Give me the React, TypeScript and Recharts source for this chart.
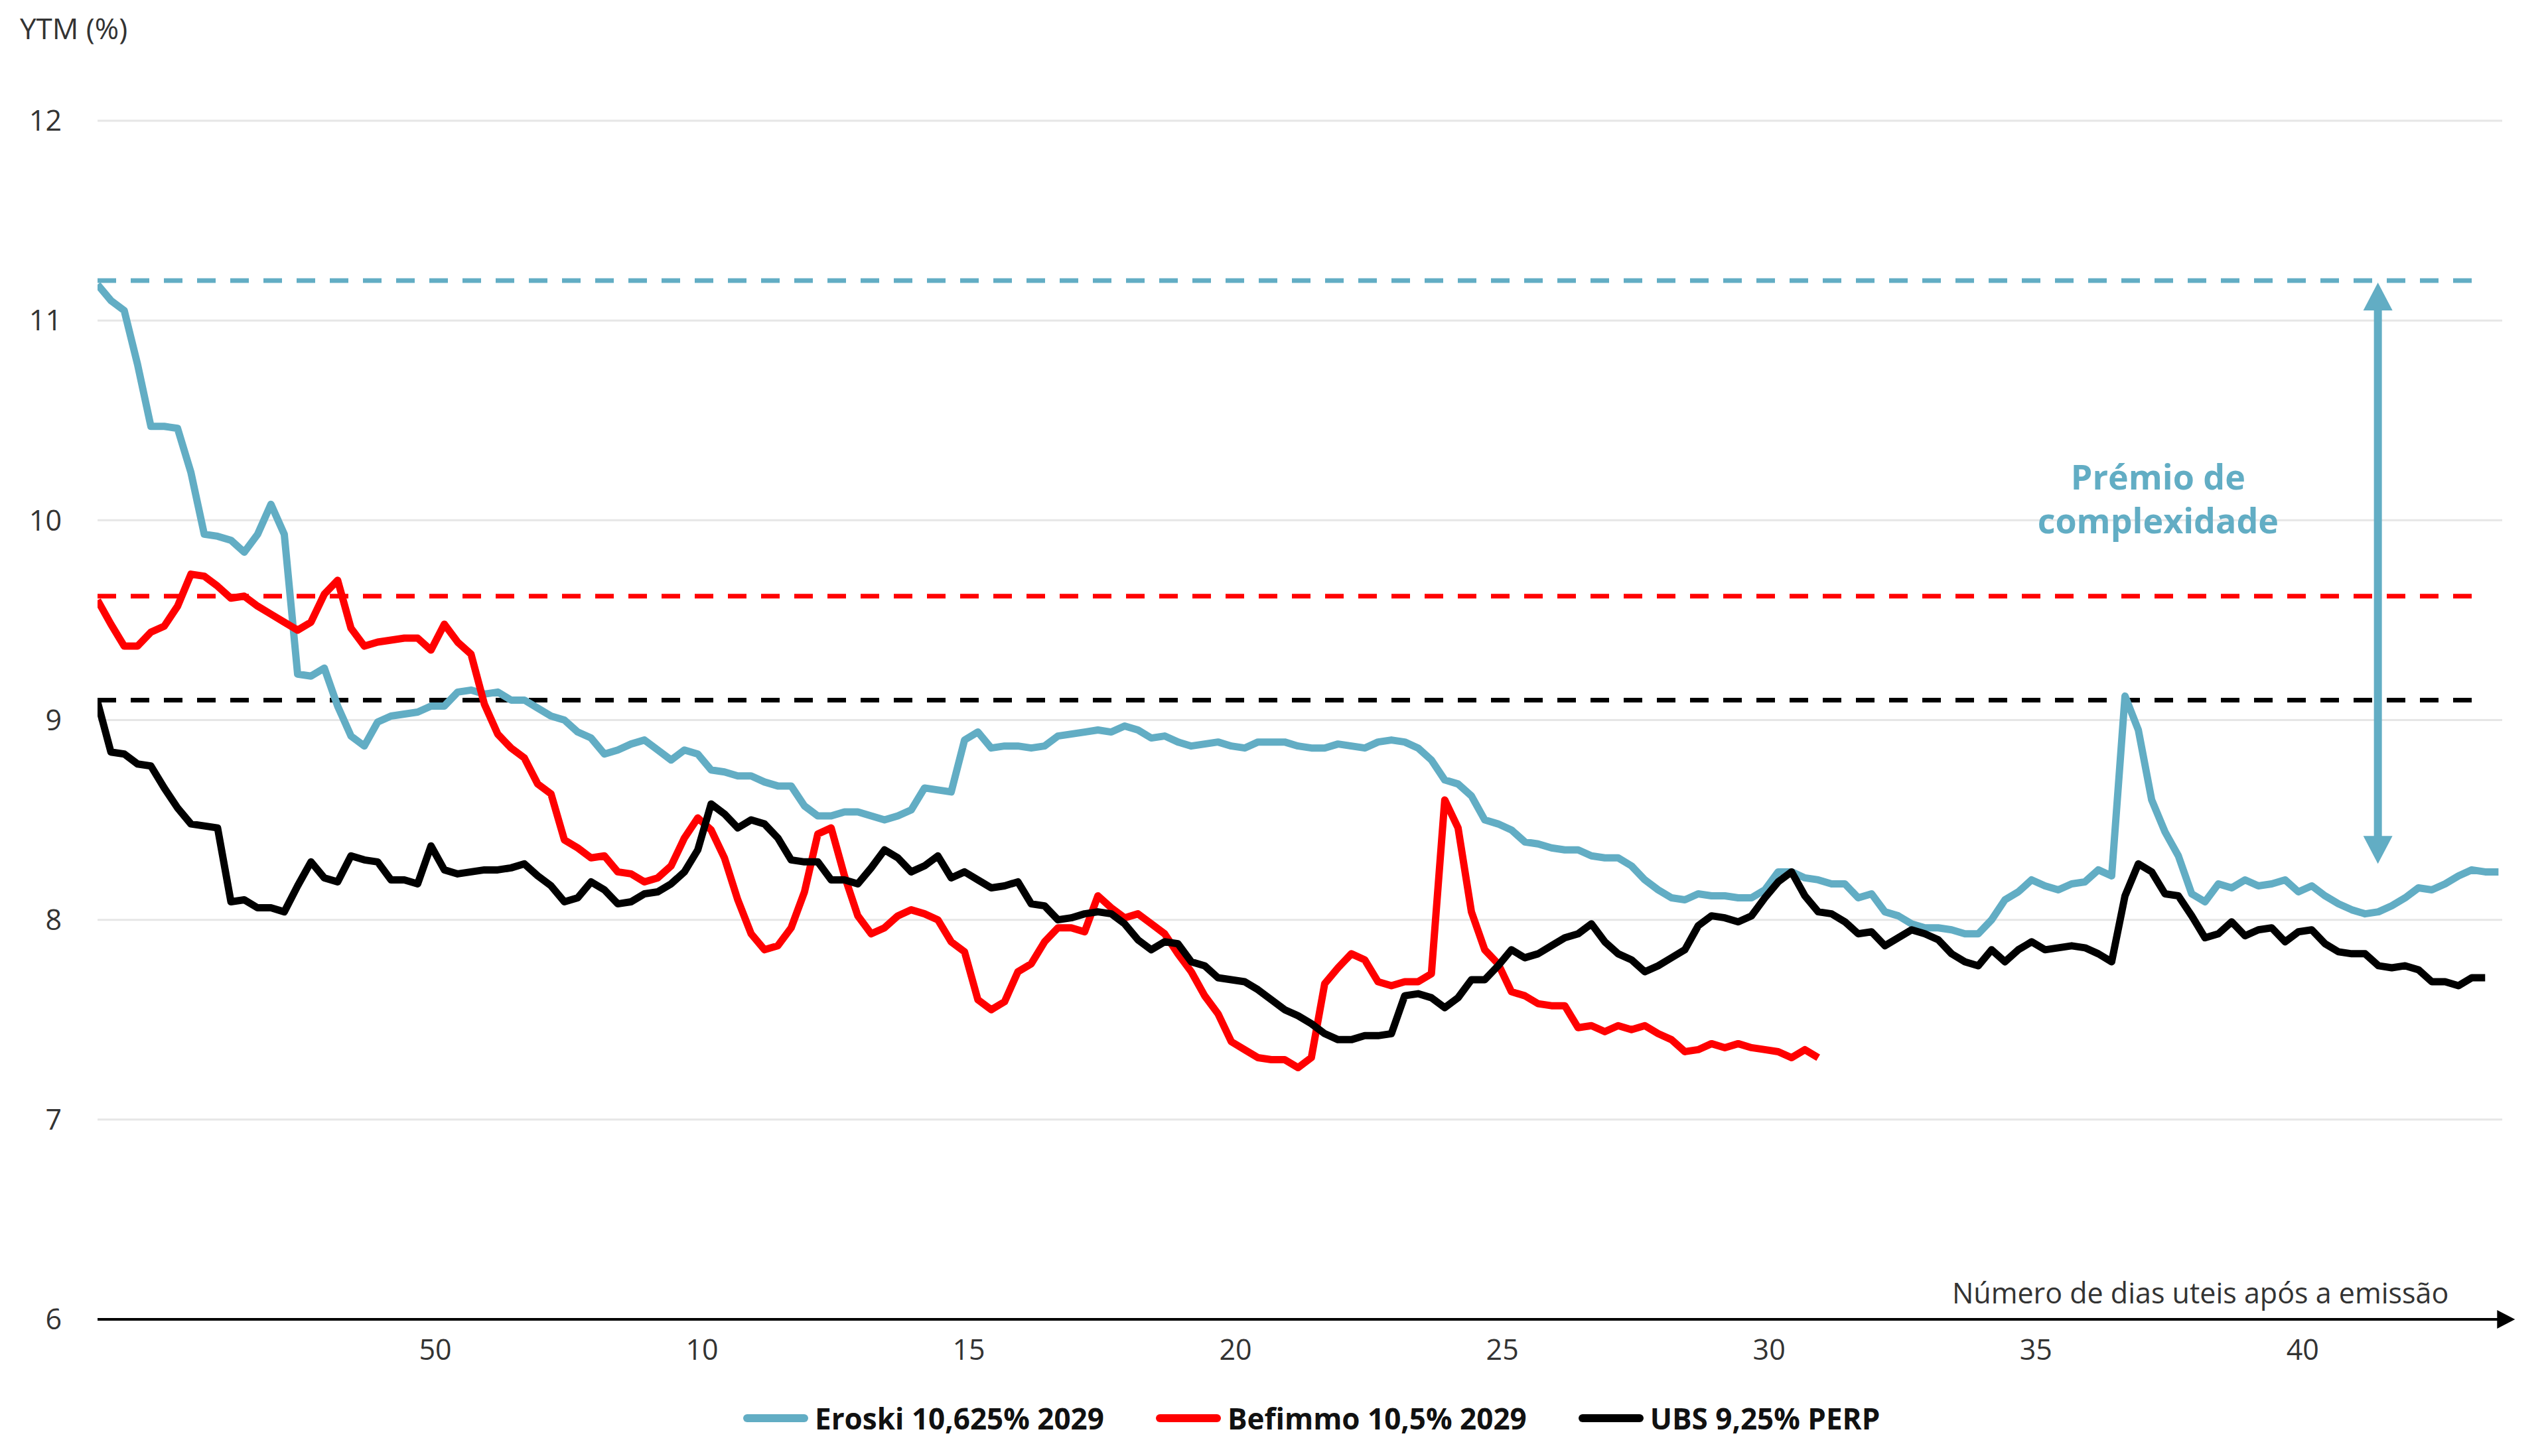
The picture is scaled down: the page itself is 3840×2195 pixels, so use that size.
import React from 'react';
import {
  LineChart,
  Line,
  XAxis,
  YAxis,
  CartesianGrid,
  ReferenceLine,
  ReferenceDot,
} from 'recharts';

const BLUE = '#62adc4';
const RED = '#ff0000';
const BLACK = '#000000';
const TEXT = '#333333';
const FONT = '"Open Sans", "Noto Sans", sans-serif';

// YTM (%), one value every 0.25 axis unit
const eroski = [
  11.18, 11.1, 11.05, 10.78, 10.47, 10.47, 10.46, 10.24, 9.93, 9.92,
  9.9, 9.84, 9.93, 10.08, 9.93, 9.23, 9.22, 9.26, 9.07, 8.92,
  8.87, 8.99, 9.02, 9.03, 9.04, 9.07, 9.07, 9.14, 9.15, 9.13,
  9.14, 9.1, 9.1, 9.06, 9.02, 9.0, 8.94, 8.91, 8.83, 8.85,
  8.88, 8.9, 8.85, 8.8, 8.85, 8.83, 8.75, 8.74, 8.72, 8.72,
  8.69, 8.67, 8.67, 8.57, 8.52, 8.52, 8.54, 8.54, 8.52, 8.5,
  8.52, 8.55, 8.66, 8.65, 8.64, 8.9, 8.94, 8.86, 8.87, 8.87,
  8.86, 8.87, 8.92, 8.93, 8.94, 8.95, 8.94, 8.97, 8.95, 8.91,
  8.92, 8.89, 8.87, 8.88, 8.89, 8.87, 8.86, 8.89, 8.89, 8.89,
  8.87, 8.86, 8.86, 8.88, 8.87, 8.86, 8.89, 8.9, 8.89, 8.86,
  8.8, 8.7, 8.68, 8.62, 8.5, 8.48, 8.45, 8.39, 8.38, 8.36,
  8.35, 8.35, 8.32, 8.31, 8.31, 8.27, 8.2, 8.15, 8.11, 8.1,
  8.13, 8.12, 8.12, 8.11, 8.11, 8.15, 8.24, 8.24, 8.21, 8.2,
  8.18, 8.18, 8.11, 8.13, 8.04, 8.02, 7.98, 7.96, 7.96, 7.95,
  7.93, 7.93, 8.0, 8.1, 8.14, 8.2, 8.17, 8.15, 8.18, 8.19,
  8.25, 8.22, 9.12, 8.95, 8.6, 8.44, 8.32, 8.13, 8.09, 8.18,
  8.16, 8.2, 8.17, 8.18, 8.2, 8.14, 8.17, 8.12, 8.08, 8.05,
  8.03, 8.04, 8.07, 8.11, 8.16, 8.15, 8.18, 8.22, 8.25, 8.24,
  8.24,
];

const befimmo = [
  9.6, 9.48, 9.37, 9.37, 9.44, 9.47, 9.57, 9.73, 9.72, 9.67,
  9.61, 9.62, 9.57, 9.53, 9.49, 9.45, 9.49, 9.63, 9.7, 9.46,
  9.37, 9.39, 9.4, 9.41, 9.41, 9.35, 9.48, 9.39, 9.33, 9.08,
  8.93, 8.86, 8.81, 8.68, 8.63, 8.4, 8.36, 8.31, 8.32, 8.24,
  8.23, 8.19, 8.21, 8.27, 8.41, 8.51, 8.45, 8.31, 8.1, 7.93,
  7.85, 7.87, 7.96, 8.14, 8.43, 8.46, 8.22, 8.02, 7.93, 7.96,
  8.02, 8.05, 8.03, 8.0, 7.89, 7.84, 7.6, 7.55, 7.59, 7.74,
  7.78, 7.89, 7.96, 7.96, 7.94, 8.12, 8.06, 8.01, 8.03, 7.98,
  7.93, 7.83, 7.74, 7.62, 7.53, 7.39, 7.35, 7.31, 7.3, 7.3,
  7.26, 7.31, 7.68, 7.76, 7.83, 7.8, 7.69, 7.67, 7.69, 7.69,
  7.73, 8.6, 8.46, 8.04, 7.85, 7.78, 7.64, 7.62, 7.58, 7.57,
  7.57, 7.46, 7.47, 7.44, 7.47, 7.45, 7.47, 7.43, 7.4, 7.34,
  7.35, 7.38, 7.36, 7.38, 7.36, 7.35, 7.34, 7.31, 7.35, 7.31,
];

const ubs = [
  9.09, 8.84, 8.83, 8.78, 8.77, 8.66, 8.56, 8.48, 8.47, 8.46,
  8.09, 8.1, 8.06, 8.06, 8.04, 8.17, 8.29, 8.21, 8.19, 8.32,
  8.3, 8.29, 8.2, 8.2, 8.18, 8.37, 8.25, 8.23, 8.24, 8.25,
  8.25, 8.26, 8.28, 8.22, 8.17, 8.09, 8.11, 8.19, 8.15, 8.08,
  8.09, 8.13, 8.14, 8.18, 8.24, 8.35, 8.58, 8.53, 8.46, 8.5,
  8.48, 8.41, 8.3, 8.29, 8.29, 8.2, 8.2, 8.18, 8.26, 8.35,
  8.31, 8.24, 8.27, 8.32, 8.21, 8.24, 8.2, 8.16, 8.17, 8.19,
  8.08, 8.07, 8.0, 8.01, 8.03, 8.04, 8.03, 7.98, 7.9, 7.85,
  7.89, 7.88, 7.79, 7.77, 7.71, 7.7, 7.69, 7.65, 7.6, 7.55,
  7.52, 7.48, 7.43, 7.4, 7.4, 7.42, 7.42, 7.43, 7.62, 7.63,
  7.61, 7.56, 7.61, 7.7, 7.7, 7.77, 7.85, 7.81, 7.83, 7.87,
  7.91, 7.93, 7.98, 7.89, 7.83, 7.8, 7.74, 7.77, 7.81, 7.85,
  7.97, 8.02, 8.01, 7.99, 8.02, 8.11, 8.19, 8.24, 8.12, 8.04,
  8.03, 7.99, 7.93, 7.94, 7.87, 7.91, 7.95, 7.93, 7.9, 7.83,
  7.79, 7.77, 7.85, 7.79, 7.85, 7.89, 7.85, 7.86, 7.87, 7.86,
  7.83, 7.79, 8.12, 8.28, 8.24, 8.13, 8.12, 8.02, 7.91, 7.93,
  7.99, 7.92, 7.95, 7.96, 7.89, 7.94, 7.95, 7.88, 7.84, 7.83,
  7.83, 7.77, 7.76, 7.77, 7.75, 7.69, 7.69, 7.67, 7.71, 7.71,
];

// issue yields (dashed lines)
const eroskiIssue = 11.2;
const befimmoIssue = 9.62;
const ubsIssue = 9.1;

const firstDay = -1.33;
const dayStep = 0.25;
const lastDay = 43.74;
const dashEnd = 43.3;
const arrowDay = 41.41;
const premioTop = 11.19;
const premioBottom = 8.28;

const xTicks = [5, 10, 15, 20, 25, 30, 35, 40];
const xTickLabels = ['50', '10', '15', '20', '25', '30', '35', '40'];
const yTicks = [6, 7, 8, 9, 10, 11, 12];

const seriesNames = ['Eroski 10,625% 2029', 'Befimmo 10,5% 2029', 'UBS 9,25% PERP'];
const seriesColors = [BLUE, RED, BLACK];

const data = eroski.map((v, i) => ({
  day: firstDay + i * dayStep,
  eroski: v,
  befimmo: befimmo[i] ?? null,
  ubs: ubs[i] ?? null,
}));

const DoubleArrow = (props: any) => {
  const { x1, y1, x2, y2 } = props;
  const head = 42;
  const half = 22;
  return (
    <g>
      <line x1={x1} y1={y1 + head - 4} x2={x2} y2={y2 - head + 4} stroke={BLUE} strokeWidth={12} />
      <polygon points={`${x1},${y1} ${x1 - half},${y1 + head} ${x1 + half},${y1 + head}`} fill={BLUE} />
      <polygon points={`${x2},${y2} ${x2 - half},${y2 - head} ${x2 + half},${y2 - head}`} fill={BLUE} />
    </g>
  );
};

const AxisArrow = (props: any) => {
  const { x1, y1, x2 } = props;
  return (
    <g>
      <line x1={x1} y1={y1} x2={x2 - 20} y2={y1} stroke={BLACK} strokeWidth={4} />
      <polygon points={`${x2},${y1} ${x2 - 27},${y1 - 14} ${x2 - 27},${y1 + 14}`} fill={BLACK} />
      <text
        x={x2 - 100}
        y={y1 - 24}
        textAnchor="end"
        fontSize={43}
        fontFamily={FONT}
        fill={TEXT}
      >
        Número de dias uteis após a emissão
      </text>
    </g>
  );
};

const PremioLabel = (props: any) => {
  const { cx, cy } = props;
  const common = {
    x: cx,
    textAnchor: 'middle' as const,
    fontSize: 52,
    fontWeight: 700,
    fontFamily: FONT,
    fill: BLUE,
  };
  return (
    <g>
      <text {...common} y={cy - 14}>Prémio de</text>
      <text {...common} y={cy + 52}>complexidade</text>
    </g>
  );
};

export default function App() {
  return (
    <div
      style={{
        position: 'relative',
        width: 3840,
        height: 2195,
        background: '#ffffff',
        fontFamily: FONT,
      }}
    >
      <style>{'body{margin:0;}'}</style>
      <div
        style={{
          position: 'absolute',
          left: 30,
          top: 12,
          fontSize: 44,
          color: TEXT,
          lineHeight: '60px',
        }}
      >
        YTM (%)
      </div>
      <LineChart
        width={3840}
        height={2195}
        data={data}
        margin={{ top: 182, right: 69, left: 0, bottom: 0 }}
      >
        <CartesianGrid vertical={false} stroke="#e6e6e6" strokeWidth={3} />
        <XAxis
          dataKey="day"
          type="number"
          domain={[firstDay, lastDay]}
          allowDataOverflow
          ticks={xTicks}
          interval={0}
          tickFormatter={(v) => xTickLabels[xTicks.indexOf(v)]}
          axisLine={false}
          tickLine={false}
          tickSize={0}
          tickMargin={30}
          height={206}
          tick={{ fontSize: 43, fill: TEXT, fontFamily: FONT }}
        />
        <YAxis
          type="number"
          domain={[6, 12]}
          ticks={yTicks}
          interval={0}
          axisLine={false}
          tickLine={false}
          tickSize={0}
          tickMargin={54}
          width={147}
          tick={{ fontSize: 43, fill: TEXT, fontFamily: FONT }}
        />
        <ReferenceLine
          segment={[{ x: firstDay, y: eroskiIssue }, { x: dashEnd, y: eroskiIssue }]}
          stroke={BLUE}
          strokeWidth={7}
          strokeDasharray="28 22"
          ifOverflow="visible"
        />
        <ReferenceLine
          segment={[{ x: firstDay, y: befimmoIssue }, { x: dashEnd, y: befimmoIssue }]}
          stroke={RED}
          strokeWidth={7}
          strokeDasharray="28 22"
          ifOverflow="visible"
        />
        <ReferenceLine
          segment={[{ x: firstDay, y: ubsIssue }, { x: dashEnd, y: ubsIssue }]}
          stroke={BLACK}
          strokeWidth={7}
          strokeDasharray="28 22"
          ifOverflow="visible"
        />
        <ReferenceLine
          segment={[{ x: firstDay, y: 6 }, { x: 43.98, y: 6 }]}
          ifOverflow="visible"
          shape={AxisArrow}
        />
        <Line
          dataKey="eroski"
          type="linear"
          stroke={BLUE}
          strokeWidth={11}
          strokeLinejoin="round"
          dot={false}
          activeDot={false}
          isAnimationActive={false}
        />
        <Line
          dataKey="befimmo"
          type="linear"
          stroke={RED}
          strokeWidth={11}
          strokeLinejoin="round"
          dot={false}
          activeDot={false}
          isAnimationActive={false}
        />
        <Line
          dataKey="ubs"
          type="linear"
          stroke={BLACK}
          strokeWidth={11}
          strokeLinejoin="round"
          dot={false}
          activeDot={false}
          isAnimationActive={false}
        />
        <ReferenceLine
          segment={[{ x: arrowDay, y: premioTop }, { x: arrowDay, y: premioBottom }]}
          ifOverflow="visible"
          shape={DoubleArrow}
        />
        <ReferenceDot x={37.29} y={10.108} r={0} ifOverflow="visible" shape={PremioLabel} />
      </LineChart>
      <div
        style={{
          position: 'absolute',
          left: 1120,
          top: 2108,
          display: 'flex',
          alignItems: 'center',
          fontSize: 44,
          fontWeight: 700,
          color: '#111111',
          lineHeight: '60px',
          whiteSpace: 'nowrap',
        }}
      >
        {seriesNames.map((name, i) => (
          <div key={name} style={{ display: 'flex', alignItems: 'center', marginRight: 78 }}>
            <div
              style={{
                width: 98,
                height: 12,
                borderRadius: 6,
                background: seriesColors[i],
                marginRight: 10,
              }}
            />
            <span>{name}</span>
          </div>
        ))}
      </div>
    </div>
  );
}
